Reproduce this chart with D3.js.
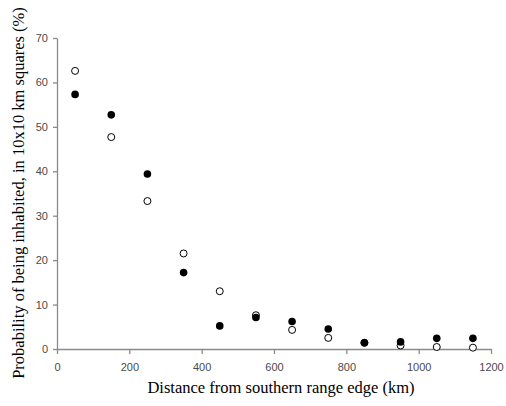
<!DOCTYPE html>
<html>
<head>
<meta charset="utf-8">
<script src="https://cdn.jsdelivr.net/npm/d3@7"></script>
<style>
  body { margin: 0; background: #fff; }
</style>
</head>
<body>
<div id="viz"></div>
<script>
let distances = [50, 150, 250, 350, 450, 550, 650, 750, 850, 950, 1050, 1150];
let filledValues = [57.3, 52.7, 39.4, 17.2, 5.2, 7.1, 6.2, 4.5, 1.4, 1.6, 2.4, 2.4];
let openValues = [62.6, 47.7, 33.3, 21.5, 13.0, 7.6, 4.3, 2.5, 1.4, 0.8, 0.45, 0.3];
let xTicks = [0, 200, 400, 600, 800, 1000, 1200];
let yTicks = [0, 10, 20, 30, 40, 50, 60, 70];

let margin = { top: 38, right: 15, bottom: 57, left: 57 };
let width = 506 - margin.left - margin.right,
    height = 406 - margin.top - margin.bottom;

let svg = d3.select('#viz')
    .append('svg')
    .attr('width', 506)
    .attr('height', 406);

let chart = svg.append('g')
    .attr('transform', 'translate(' + margin.left + ',' + margin.top + ')');

let xScale = d3.scaleLinear()
    .domain([0, 1200])
    .range([0, width]);
let yScale = d3.scaleLinear()
    .domain([0, 70])
    .range([height, 0]);

let xAxis = chart.append('g')
    .attr('transform', 'translate(0,' + height + ')')
    .call(d3.axisBottom(xScale).tickValues(xTicks).tickFormat(d3.format('d'))
        .tickSize(5).tickPadding(9).tickSizeOuter(0));
let yAxis = chart.append('g')
    .call(d3.axisLeft(yScale).tickValues(yTicks).tickFormat(d3.format('d'))
        .tickSize(4).tickPadding(5).tickSizeOuter(0));

[xAxis, yAxis].forEach((ax) => {
    ax.select('.domain').attr('stroke', '#8a8a8a').attr('stroke-width', 1.3);
    ax.selectAll('.tick line').attr('stroke', '#8a8a8a').attr('stroke-width', 1.3);
    ax.selectAll('.tick text')
        .attr('fill', '#4a4a4a')
        .style('font-family', '"Liberation Sans", Arial, sans-serif')
        .style('font-size', '11px');
});

chart.selectAll('circle.open')
    .data(openValues)
    .enter()
    .append('circle')
    .attr('class', 'open')
    .attr('cx', (d, i) => xScale(distances[i]))
    .attr('cy', (d) => yScale(d))
    .attr('r', 3.5)
    .attr('fill', '#fff')
    .attr('stroke', '#000')
    .attr('stroke-width', 1);

chart.selectAll('circle.filled')
    .data(filledValues)
    .enter()
    .append('circle')
    .attr('class', 'filled')
    .attr('cx', (d, i) => xScale(distances[i]))
    .attr('cy', (d) => yScale(d))
    .attr('r', 3.8)
    .attr('fill', '#000');

svg.append('text')
    .attr('x', 281)
    .attr('y', 393)
    .attr('text-anchor', 'middle')
    .style('font-family', '"Liberation Serif", "Times New Roman", serif')
    .style('font-size', '16.5px')
    .text('Distance from southern range edge (km)');

svg.append('text')
    .attr('transform', 'translate(24,' + 193 + ') rotate(-90)')
    .attr('text-anchor', 'middle')
    .style('font-family', '"Liberation Serif", "Times New Roman", serif')
    .style('font-size', '16.5px')
    .text('Probability of being inhabited, in 10x10 km squares (%)');
</script>
</body>
</html>
